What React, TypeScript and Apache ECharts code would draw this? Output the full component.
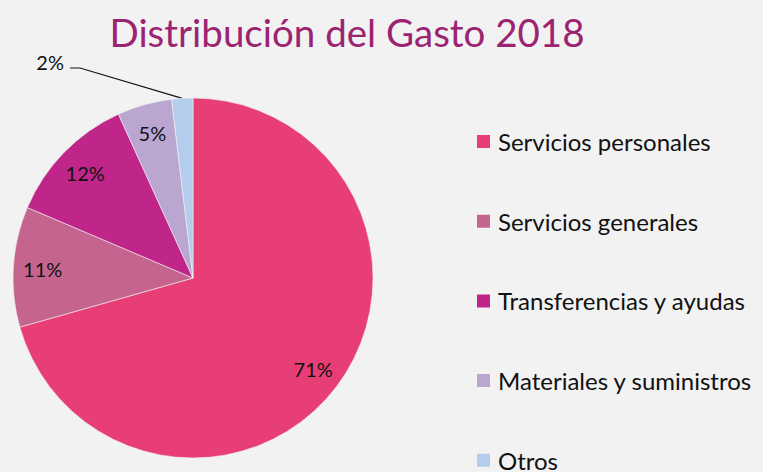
import React, { useEffect, useRef } from "react";
import * as echarts from "echarts";

const categories = [
  "Servicios personales",
  "Servicios generales",
  "Transferencias y ayudas",
  "Materiales y suministros",
  "Otros",
];
const values = [70.6, 10.8, 11.8, 4.9, 1.9];
const colors = ["#E83E76", "#C5658F", "#C0268A", "#BBA6D1", "#B5CDEC"];
const titleText = "Distribución del Gasto 2018";

export default function App() {
  const ref = useRef<HTMLDivElement>(null);
  useEffect(() => {
    if (!ref.current) return;
    const chart = echarts.init(ref.current, undefined, { renderer: "svg" });
    const R = 180;
    const center = [193, 278];
    const fmt = (p: any) => Math.round(p.value) + "%";
    chart.setOption({
      animation: false,
      backgroundColor: "#F2F2F2",
      title: {
        text: titleText,
        left: 342,
        top: 7,
        textAlign: "center",
        textStyle: {
          fontFamily: "Lato",
          fontWeight: "normal",
          fontSize: 38.5,
          color: "#9C2372",
        },
      },
      legend: {
        orient: "vertical",
        left: 470,
        top: 124.5,
        height: 600,
        itemWidth: 15,
        itemHeight: 15,
        itemGap: 55.7,
        icon: "rect",
        data: categories.map((c, i) => ({ name: c, itemStyle: { color: colors[i] } })),
        textStyle: { fontFamily: "Lato", fontSize: 24, color: "#111", padding: [0, 0, 0, 2] },
        selectedMode: false,
      },
      series: [
        {
          type: "pie",
          radius: R,
          center,
          startAngle: 90,
          clockwise: true,
          silent: true,
          label: { show: false },
          labelLine: { show: false },
          itemStyle: { borderColor: "#F2F2F2", borderWidth: 0.6 },
          data: categories.map((c, i) => ({
            name: c,
            value: values[i],
            itemStyle: { color: colors[i] },
          })),
        },
        {
          type: "pie",
          radius: [R * 0.64, R],
          center,
          startAngle: 90,
          clockwise: true,
          silent: true,
          itemStyle: { color: "rgba(0,0,0,0)" },
          label: {
            show: true,
            position: "inside",
            formatter: fmt,
            fontFamily: "Lato",
            fontSize: 20,
            color: "#111",
          },
          labelLine: { show: false },
          labelLayout: (params: any) => {
            if (params.dataIndex !== 4) return {};
            const start = params.labelLinePoints ? params.labelLinePoints[0] : [183, 97];
            return {
              x: 64,
              y: 62,
              align: "right",
              verticalAlign: "middle",
              labelLinePoints: [start, [80, 68], [70, 68]],
            };
          },
          data: categories.map((c, i) =>
            i === 4
              ? {
                  name: c,
                  value: values[i],
                  label: { position: "outside", color: "#111" },
                  labelLine: { show: true, length: 10, length2: 10, lineStyle: { color: "#111", width: 1.2 } },
                }
              : { name: c, value: values[i] }
          ),
        },
      ],
    });
    return () => chart.dispose();
  }, []);
  return <div ref={ref} style={{ width: 763, height: 472, position: "absolute", left: 0, top: 0 }} />;
}
